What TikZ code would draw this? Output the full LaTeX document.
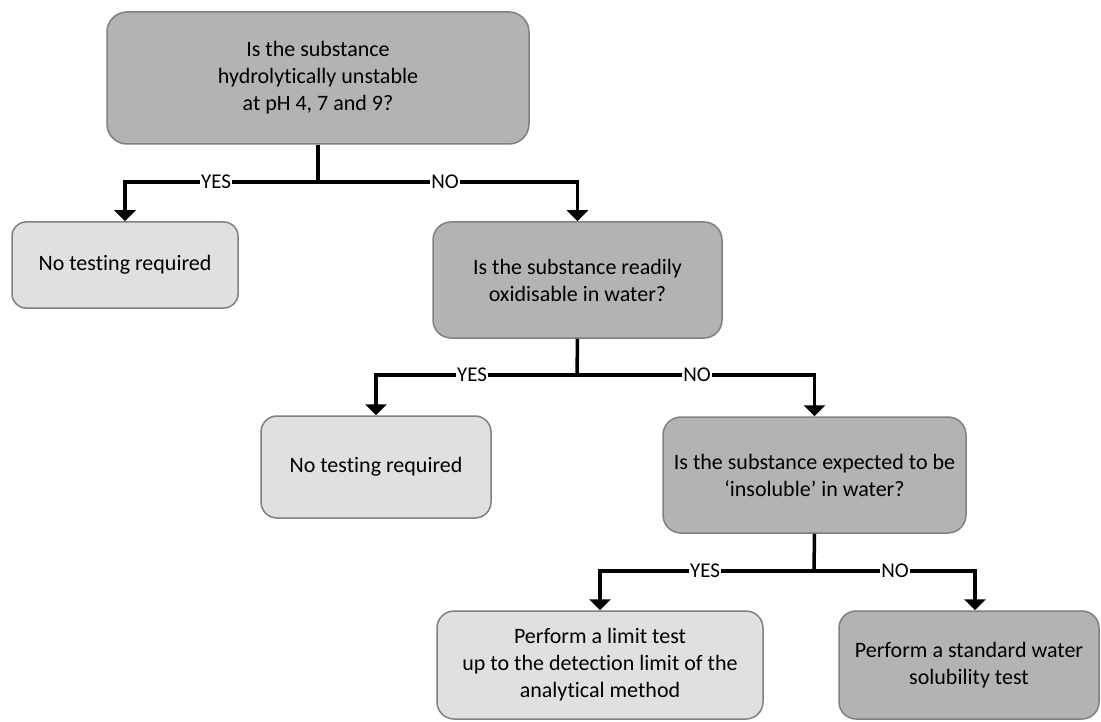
\documentclass[tikz,border=0pt]{standalone}
\usepackage{fontspec}
\setmainfont{Carlito}[Ligatures=NoCommon]
\usetikzlibrary{arrows.meta}
\definecolor{darkbox}{HTML}{B3B3B3}
\definecolor{lightbox}{HTML}{E0E0E0}
\definecolor{boxline}{HTML}{808080}
\begin{document}
\begin{tikzpicture}[x=1pt,y=-1pt,
  box/.style={draw=boxline, line width=1.5pt, rectangle, align=center, inner sep=0pt,
    font=\fontsize{22}{27}\selectfont, text=black},
  qbox/.style={box, fill=darkbox},
  abox/.style={box, fill=lightbox},
  conn/.style={line width=3.5pt, black},
  arr/.style={conn, -{Triangle[width=21pt,length=11pt]}},
  lbl/.style={fill=white, inner sep=1pt, font=\fontsize{21}{23}\selectfont}
]
\useasboundingbox (0,0) rectangle (1101,722);
% boxes
\node[qbox, minimum width=422pt, minimum height=132pt, rounded corners=20pt] (b1) at (318,78)
  {Is the substance\\hydrolytically unstable\\at pH 4, 7 and 9?};
\node[abox, minimum width=226pt, minimum height=86pt, rounded corners=14pt] (b2) at (125,265)
  {No testing required};
\node[qbox, minimum width=289pt, minimum height=116pt, rounded corners=18pt] (b3) at (577.5,280)
  {Is the substance readily\\oxidisable in water?};
\node[abox, minimum width=230pt, minimum height=102pt, rounded corners=16pt] (b4) at (376,467)
  {No testing required};
\node[qbox, minimum width=303pt, minimum height=116pt, rounded corners=18pt] (b5) at (814.5,475)
  {Is the substance expected to be\\‘insoluble’ in water?};
\node[abox, minimum width=326pt, minimum height=108pt, rounded corners=17pt] (b6) at (600,665)
  {Perform a limit test\\up to the detection limit of the\\analytical method};
\node[qbox, minimum width=260pt, minimum height=108pt, rounded corners=17pt] (b7) at (969,665)
  {Perform a standard water\\solubility test};
% junctions
\coordinate (j1) at (318,182);
\coordinate (j2) at (577,375);
\coordinate (j3) at (814,571);
% connectors
\draw[conn] (b1.south) -- (j1);
\draw[arr] (j1) -| (b2.north);
\draw[arr] (j1) -| (b3.north);
\draw[conn] (b3.south) -- (j2);
\draw[arr] (j2) -| (b4.north);
\draw[arr] (j2) -| (b5.north);
\draw[conn] (b5.south) -- (j3);
\draw[arr] (j3) -| (b6.north);
\draw[arr] (j3) -| ([xshift=6pt]b7.north);
% labels
\node[lbl] (y1) at (216,182) {YES};
\node[lbl] (n1) at (445,182) {NO};
\node[lbl] (y2) at (472,375) {YES};
\node[lbl] (n2) at (697,375) {NO};
\node[lbl] (y3) at (705,571) {YES};
\node[lbl] (n3) at (895,571) {NO};
\end{tikzpicture}
\end{document}
